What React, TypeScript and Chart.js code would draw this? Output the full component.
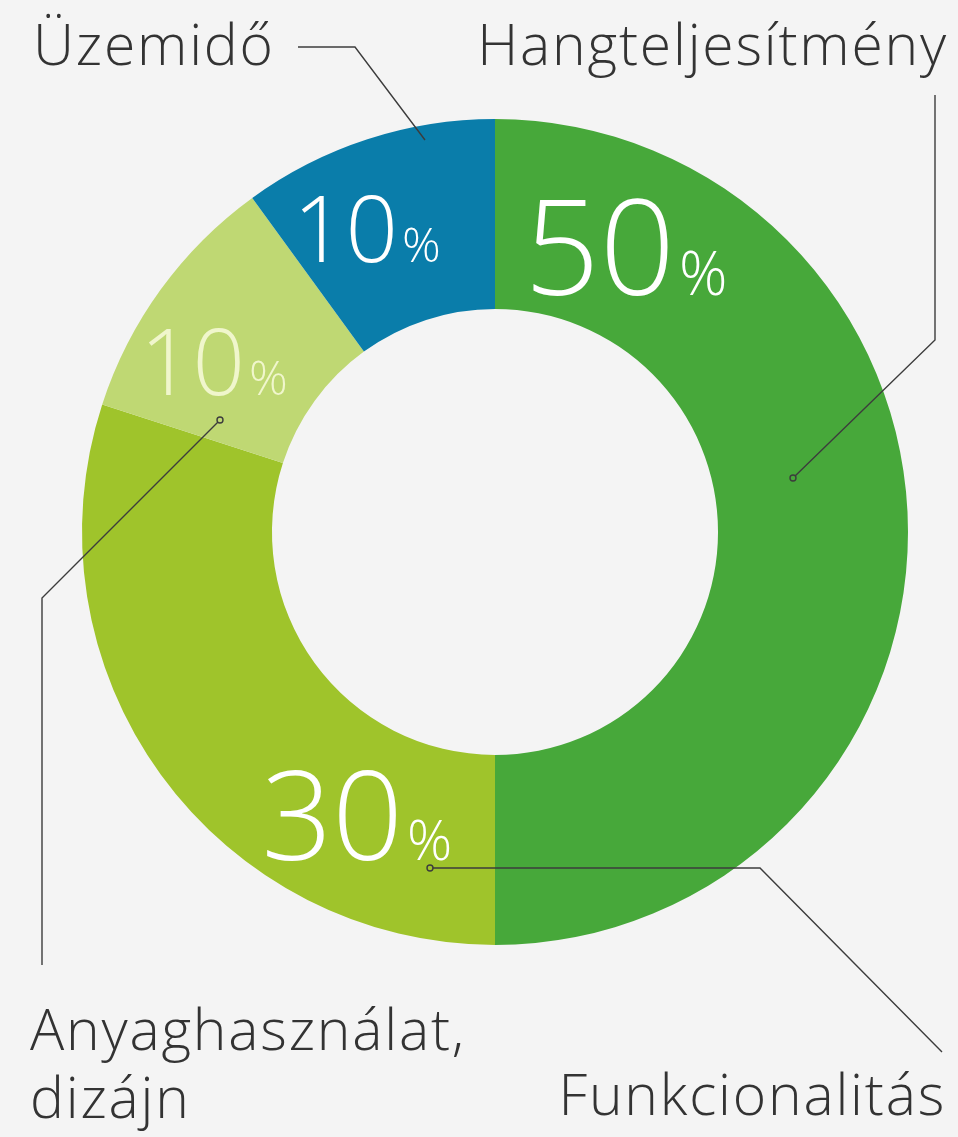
import { useEffect, useRef } from "react";
import { Chart, registerables } from "chart.js";

Chart.register(...registerables);

const categories = ["Hangteljesítmény", "Funkcionalitás", "Anyaghasználat, dizájn", "Üzemidő"];
const shares = [50, 30, 10, 10];
const segmentColors = ["#47a83a", "#9fc42b", "#bfd873", "#0a7daa"];
const valueTextColors = ["#ffffff", "#ffffff", "#f0f6cc", "#ffffff"];

const FONT = '"Open Sans", "DejaVu Sans", sans-serif';

// layout (offsets from the doughnut centre at reference radius 413)
const valueLayout = [
  { dx: 180, dy: -237, big: 132, small: 60 },
  { dx: -92, dy: 328, big: 124, small: 56 },
  { dx: -250, dy: -137, big: 92, small: 48 },
  { dx: -97, dy: -270, big: 92, small: 48 },
];

const labelLayout = [
  { lines: ["Hangteljesítmény"], x: 453, y: -467, align: "right" },
  { lines: ["Funkcionalitás"], x: 451, y: 583, align: "right" },
  { lines: ["Anyaghasználat,", "dizájn"], x: -465, y: 518, align: "left" },
  { lines: ["Üzemidő"], x: -462, y: -467, align: "left" },
];

const leaderLayout = [
  [[298, -54], [440, -192], [440, -437]],
  [[-65, 336], [265, 336], [447, 520]],
  [[-275, -112], [-453, 66], [-453, 433]],
  [[-70, -392], [-140, -485], [-197, -485]],
];

const labelPlugin = {
  id: "labelPlugin",
  afterDatasetsDraw(chart: any) {
    const meta = chart.getDatasetMeta(0);
    const arc = meta.data[0];
    if (!arc) return;
    const cx = arc.x;
    const cy = arc.y;
    const s = arc.outerRadius / 413;
    const ctx = chart.ctx;
    ctx.save();
    // percentage values
    shares.forEach((v, i) => {
      const L = valueLayout[i];
      const x = cx + L.dx * s;
      const y = cy + L.dy * s;
      ctx.fillStyle = valueTextColors[i];
      ctx.textBaseline = "alphabetic";
      ctx.font = `300 ${L.big * s}px ${FONT}`;
      ctx.textAlign = "right";
      ctx.fillText(String(v), x, y);
      ctx.font = `300 ${L.small * s}px ${FONT}`;
      ctx.textAlign = "left";
      ctx.fillText("%", x + 4 * s, y);
    });
    // leader lines
    ctx.strokeStyle = "#3c3c3c";
    ctx.lineWidth = 1.4;
    leaderLayout.forEach((pts, i) => {
      ctx.beginPath();
      pts.forEach((p, j) => {
        const x = cx + p[0] * s;
        const y = cy + p[1] * s;
        if (j === 0) ctx.moveTo(x, y);
        else ctx.lineTo(x, y);
      });
      ctx.stroke();
      if (i !== 3) {
        const p = pts[0];
        ctx.beginPath();
        ctx.arc(cx + p[0] * s, cy + p[1] * s, 3, 0, Math.PI * 2);
        ctx.fillStyle = segmentColors[i];
        ctx.fill();
        ctx.stroke();
      }
    });
    // category labels
    ctx.fillStyle = "#333333";
    ctx.font = `300 ${57 * s}px ${FONT}`;
    try {
      ctx.letterSpacing = "1.8px";
    } catch (e) {
      /* ignore */
    }
    labelLayout.forEach((L) => {
      ctx.textAlign = L.align;
      L.lines.forEach((line, k) => {
        ctx.fillText(line, cx + L.x * s, cy + (L.y + k * 68) * s);
      });
    });
    ctx.restore();
  },
};

export default function App() {
  const ref = useRef<HTMLCanvasElement>(null);
  useEffect(() => {
    document.body.style.margin = "0";
    document.body.style.background = "#f4f4f4";
    const canvas = ref.current!;
    const chart = new Chart(canvas, {
      type: "doughnut",
      data: {
        labels: categories,
        datasets: [
          {
            data: shares,
            backgroundColor: segmentColors,
            borderWidth: 0,
          },
        ],
      },
      options: {
        responsive: false,
        animation: false,
        cutout: "54%",
        rotation: 0,
        layout: { padding: { left: 82, right: 50, top: 119, bottom: 192 } },
        plugins: {
          legend: { display: false },
          tooltip: { enabled: false },
        },
      },
      plugins: [labelPlugin],
    });
    return () => chart.destroy();
  }, []);
  return (
    <div style={{ width: 958, height: 1137, background: "#f4f4f4" }}>
      <canvas ref={ref} width={958} height={1137} style={{ display: "block" }} />
    </div>
  );
}
